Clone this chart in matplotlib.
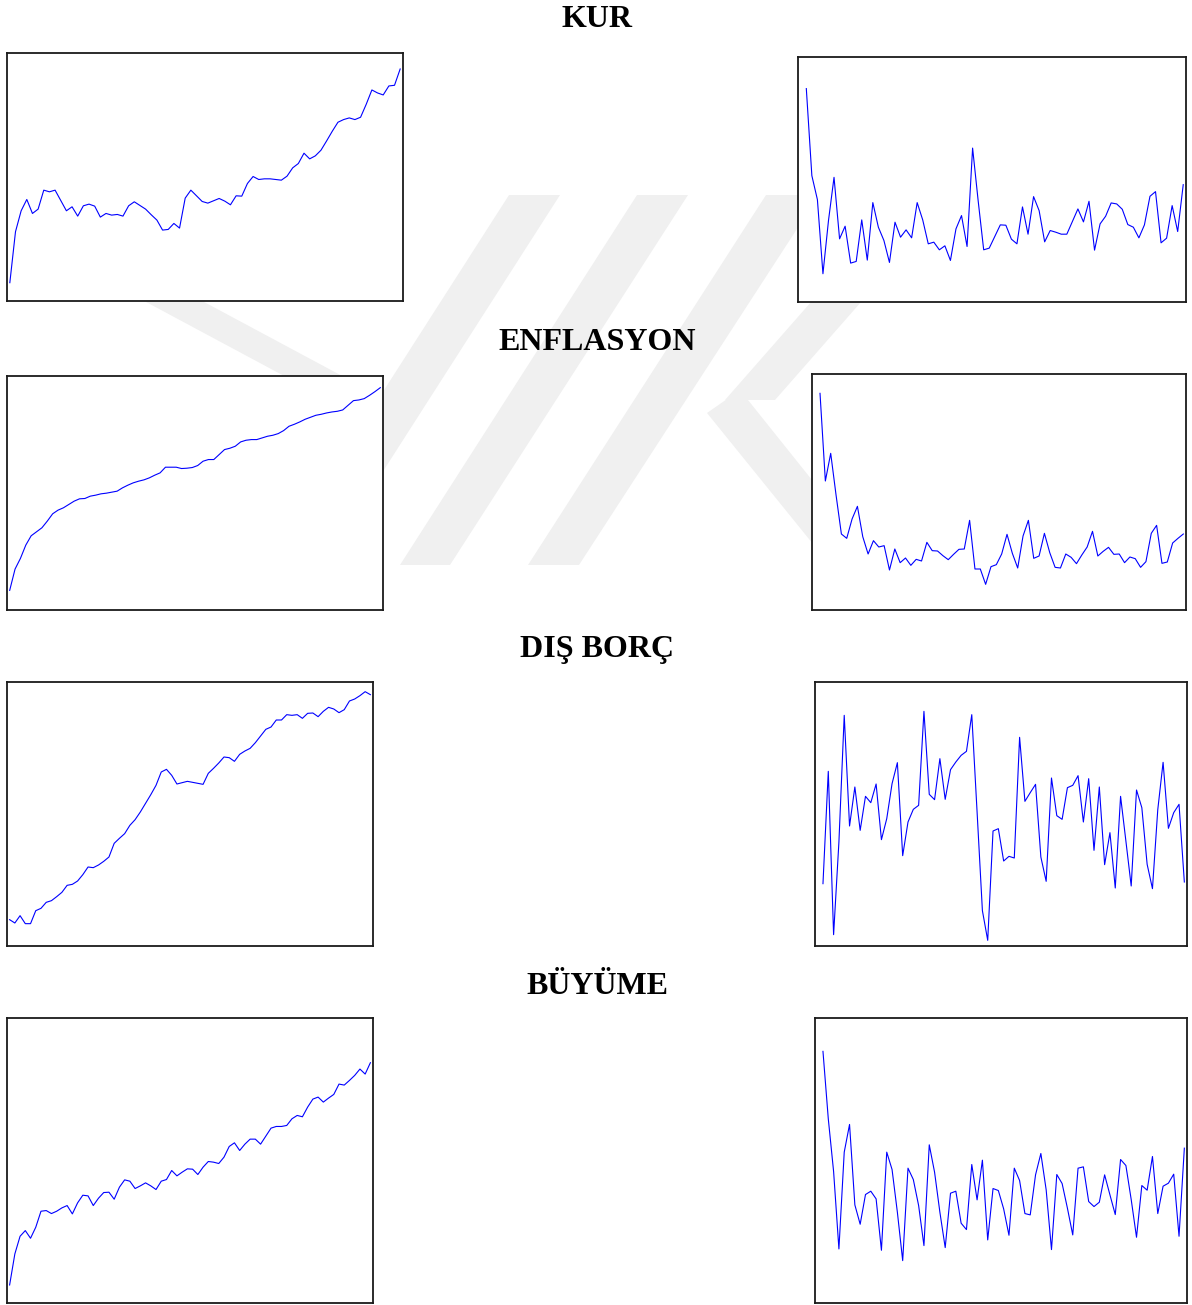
import matplotlib.pyplot as plt
from matplotlib.patches import Polygon

W, H = 1192, 1305

# level series (left column) and differenced series (right column)
kur_level = [55, 208, 271, 305, 263, 276, 333, 328, 333, 302,
             271, 283, 255, 286, 291, 285, 252, 263, 258, 260,
             255, 286, 298, 287, 276, 259, 243, 213, 215, 233,
             219, 309, 333, 316, 299, 294, 301, 308, 300, 289,
             316, 315, 353, 374, 365, 367, 367, 365, 363, 375,
             400, 413, 444, 427, 436, 453, 481, 510, 537, 545,
             550, 545, 552, 591, 634, 625, 619, 646, 648, 697]
kur_diff = [642, 380, 308, 85, 245, 375, 190, 228, 117, 122,
            247, 126, 299, 225, 185, 119, 240, 195, 217, 193,
            299, 247, 175, 180, 157, 169, 125, 220, 260, 167,
            463, 305, 157, 162, 197, 232, 231, 189, 175, 286,
            204, 317, 275, 181, 215, 210, 204, 204, 242, 280,
            241, 303, 156, 235, 258, 298, 295, 279, 233, 225,
            193, 232, 318, 332, 178, 192, 290, 212, 353]

enf_level = [59, 123, 155, 195, 223, 235, 247, 267, 289, 300,
             307, 317, 327, 334, 335, 342, 345, 349, 351, 354,
             357, 367, 375, 382, 387, 391, 397, 405, 412, 429,
             429, 429, 425, 426, 428, 434, 447, 452, 452, 467,
             482, 486, 492, 505, 510, 512, 512, 517, 522, 525,
             530, 539, 552, 558, 565, 573, 579, 585, 588, 592,
             595, 597, 601, 615, 629, 631, 635, 645, 656, 668]
enf_diff = [650, 387, 470, 345, 228, 215, 273, 311, 220, 168,
            208, 189, 193, 120, 183, 142, 156, 134, 152, 147,
            203, 178, 177, 163, 151, 167, 182, 183, 269, 123,
            123, 77, 130, 136, 168, 227, 170, 126, 222, 269,
            155, 162, 230, 172, 128, 126, 168, 158, 139, 165,
            189, 236, 162, 176, 188, 167, 168, 142, 159, 154,
            128, 145, 230, 254, 140, 144, 201, 215, 228]

borc_level = [79, 69, 91, 67, 67, 106, 113, 131, 136, 148,
              161, 182, 185, 195, 214, 237, 235, 243, 254, 267,
              308, 323, 337, 362, 379, 402, 428, 454, 482, 522,
              530, 512, 486, 490, 494, 491, 488, 485, 518, 533,
              549, 567, 565, 554, 575, 585, 593, 610, 630, 650,
              657, 678, 678, 694, 692, 694, 683, 698, 699, 688,
              704, 716, 711, 700, 709, 735, 741, 751, 763, 754]
borc_diff = [187, 524, 34, 312, 692, 360, 477, 347, 449, 430,
             486, 319, 382, 487, 550, 271, 372, 410, 422, 704,
             455, 439, 562, 440, 529, 552, 572, 584, 694, 402,
             106, 17, 345, 352, 255, 269, 264, 626, 434, 460,
             485, 267, 194, 504, 391, 380, 475, 482, 511, 372,
             502, 287, 477, 244, 340, 174, 449, 315, 180, 468,
             415, 245, 172, 409, 551, 353, 400, 425, 192]

buyume_level = [54, 147, 200, 217, 194, 227, 275, 277, 268, 275,
                285, 292, 267, 300, 323, 321, 292, 314, 331, 332,
                311, 347, 369, 365, 343, 351, 360, 351, 340, 365,
                370, 397, 381, 392, 402, 401, 385, 407, 424, 422,
                418, 437, 469, 480, 457, 476, 491, 491, 476, 500,
                524, 529, 529, 532, 552, 562, 558, 587, 611, 617,
                602, 614, 625, 656, 653, 667, 682, 701, 686, 720]
buyume_diff = [754, 552, 394, 162, 452, 535, 294, 236, 325, 335,
               312, 158, 452, 400, 272, 127, 404, 370, 292, 172,
               474, 392, 272, 166, 329, 335, 239, 220, 415, 309,
               428, 189, 343, 337, 282, 203, 404, 367, 268, 264,
               384, 448, 339, 160, 385, 358, 284, 204, 404, 408,
               304, 289, 302, 384, 324, 265, 430, 412, 310, 197,
               352, 338, 439, 268, 350, 359, 386, 200, 464]

titles = ["KUR", "ENFLASYON", "DIŞ BORÇ", "BÜYÜME"]

fig = plt.figure(figsize=(W / 100, H / 100), dpi=100)

# faint logo behind the panels, in pixel coordinates
bg = fig.add_axes([0, 0, 1, 1], zorder=0)
bg.set_xlim(0, W)
bg.set_ylim(H, 0)
bg.axis("off")
logo = [
    [(509, 195), (560, 195), (323, 565), (272, 565)],
    [(637, 195), (688, 195), (450, 565), (400, 565)],
    [(766, 195), (819, 195), (579, 565), (528, 565)],
    [(120, 288), (178, 288), (372, 392), (314, 392)],
    [(707, 413), (740, 390), (880, 565), (830, 565)],
    [(905, 195), (955, 195), (775, 400), (725, 400)],
]
for pts in logo:
    bg.add_patch(Polygon(pts, closed=True, facecolor="#f0f0f0", lw=0))


def panel(box, values, first, ylim):
    x0, y0, x1, y1 = box
    ax = fig.add_axes([x0 / W, 1 - y1 / H, (x1 - x0) / W, (y1 - y0) / H], zorder=2)
    ax.plot(range(first, first + len(values)), values, color="#0000ff", lw=0.8)
    ax.set_xlim(-0.5, 69.5)
    ax.set_ylim(0, ylim)
    ax.set_xticks([])
    ax.set_yticks([])
    for s in ax.spines.values():
        s.set_linewidth(1.3)
        s.set_color("#1a1a1a")
    return ax


panel((7, 53, 403, 301), kur_level, 0, 745)
panel((798, 57, 1186, 302), kur_diff, 1, 737)
panel((7, 376, 383, 610), enf_level, 0, 703)
panel((812, 374, 1186, 610), enf_diff, 1, 708)
panel((7, 682, 373, 946), borc_level, 0, 792)
panel((815, 682, 1187, 946), borc_diff, 1, 792)
panel((7, 1018, 373, 1303), buyume_level, 0, 854)
panel((815, 1018, 1187, 1303), buyume_diff, 1, 854)

for title, y in zip(titles, [27, 350, 657, 994]):
    fig.text(597 / W, 1 - y / H, title, ha="center", va="baseline",
             fontsize=23, fontweight="bold", family="Liberation Serif")

fig.savefig("out.png", dpi=100)
